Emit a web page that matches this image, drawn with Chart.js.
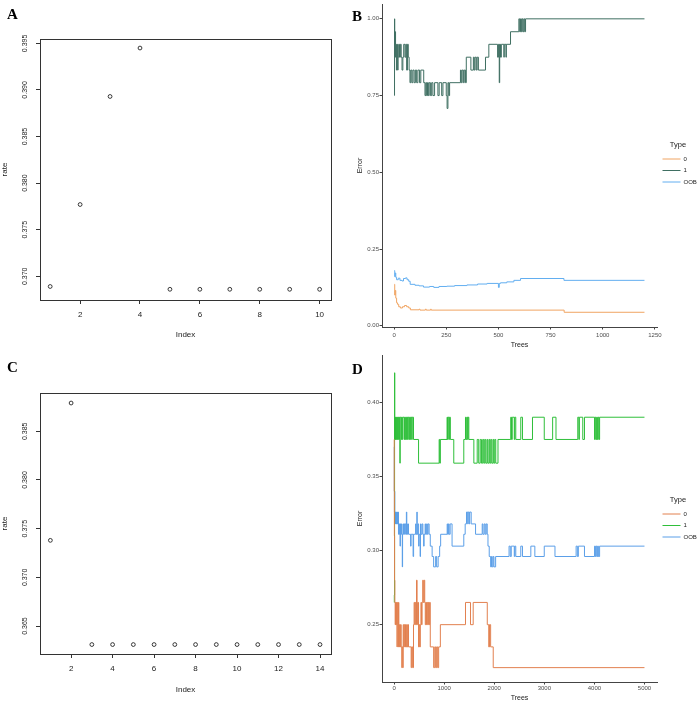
<!DOCTYPE html>
<html>
<head>
<meta charset="utf-8">
<script src="https://cdn.jsdelivr.net/npm/chart.js@4"></script>
<style>
body{margin:0;background:#fff;width:699px;height:702px;position:relative;overflow:hidden}
canvas{position:absolute}
.tag{position:absolute;z-index:2;font:bold 15px/15px "Liberation Serif","Times New Roman",serif;color:#000}
</style>
</head>
<body>
<canvas id="cA" width="350" height="350" style="left:0;top:0"></canvas>
<canvas id="cB" width="349" height="350" style="left:350px;top:0"></canvas>
<canvas id="cC" width="350" height="352" style="left:0;top:350px"></canvas>
<canvas id="cD" width="349" height="352" style="left:350px;top:350px"></canvas>
<div class="tag" style="left:7px;top:7px">A</div>
<div class="tag" style="left:352px;top:9px">B</div>
<div class="tag" style="left:7px;top:360px">C</div>
<div class="tag" style="left:352px;top:362px">D</div>
<script>
// panel A / C: error rate by index
const indexA = [1, 2, 3, 4, 5, 6, 7, 8, 9, 10];
const rateA = [0.3689, 0.3777, 0.3893, 0.3945, 0.3686, 0.3686, 0.3686, 0.3686, 0.3686, 0.3686];
const xTicksA = [2, 4, 6, 8, 10];
const yTicksA = [0.370, 0.375, 0.380, 0.385, 0.390, 0.395];

const indexC = [1, 2, 3, 4, 5, 6, 7, 8, 9, 10, 11, 12, 13, 14];
const rateC = [0.3738, 0.3879, 0.3631, 0.3631, 0.3631, 0.3631, 0.3631, 0.3631, 0.3631, 0.3631, 0.3631, 0.3631, 0.3631, 0.3631];
const xTicksC = [2, 4, 6, 8, 10, 12, 14];
const yTicksC = [0.365, 0.370, 0.375, 0.380, 0.385];

// panel B / D: error vs number of trees, [trees, error] change points
const typeNames = ["0", "1", "OOB"];

const errB0 = [[1,0.135],[3,0.10],[5,0.115],[8,0.09],[12,0.075],[16,0.07],[22,0.062],[30,0.058],[40,0.062],[50,0.066],[60,0.062],[70,0.058],[78,0.052],[120,0.054],[124,0.051],[150,0.054],[154,0.051],[175,0.054],[178,0.051],[815,0.044],[1200,0.044]];
const errB1 = [[1,0.75],[2,1.0],[3,0.917],[5,0.958],[7,0.875],[9,0.917],[11,0.833],[13,0.875],[15,0.917],[17,0.833],[19,0.875],[22,0.917],[26,0.875],[30,0.917],[34,0.875],[38,0.833],[42,0.875],[46,0.917],[52,0.875],[56,0.917],[60,0.833],[64,0.917],[68,0.875],[72,0.833],[76,0.792],[80,0.833],[85,0.792],[90,0.833],[96,0.792],[102,0.833],[108,0.792],[114,0.833],[122,0.792],[128,0.833],[142,0.792],[148,0.75],[152,0.792],[156,0.75],[160,0.792],[164,0.75],[168,0.792],[174,0.75],[180,0.792],[186,0.75],[194,0.792],[210,0.75],[216,0.792],[228,0.75],[234,0.792],[250,0.75],[254,0.708],[258,0.792],[262,0.75],[266,0.792],[318,0.833],[322,0.792],[326,0.833],[332,0.792],[336,0.833],[342,0.792],[346,0.875],[368,0.833],[380,0.875],[384,0.833],[388,0.875],[394,0.833],[398,0.875],[404,0.833],[438,0.875],[454,0.917],[496,0.875],[500,0.917],[504,0.792],[506,0.917],[510,0.875],[514,0.917],[526,0.875],[528,0.917],[536,0.875],[538,0.917],[558,0.958],[598,1.0],[602,0.958],[606,1.0],[610,0.958],[614,1.0],[618,0.958],[622,1.0],[626,0.958],[630,1.0],[1200,1.0]];
const errBoob = [[1,0.18],[3,0.16],[5,0.172],[8,0.158],[12,0.15],[20,0.155],[28,0.148],[38,0.146],[45,0.154],[55,0.156],[62,0.15],[70,0.145],[77,0.135],[100,0.132],[120,0.13],[141,0.126],[170,0.128],[190,0.125],[215,0.128],[253,0.129],[290,0.131],[349,0.133],[400,0.136],[446,0.138],[500,0.125],[504,0.138],[510,0.14],[540,0.143],[574,0.148],[606,0.154],[814,0.148],[1200,0.148]];
const xTicksB = [0, 250, 500, 750, 1000, 1250];
const yTicksB = [0.00, 0.25, 0.50, 0.75, 1.00];

const errD0 = [[1,0.375],[3,0.34],[6,0.31],[10,0.28],[16,0.265],[22,0.25],[28,0.265],[36,0.25],[42,0.265],[50,0.25],[58,0.235],[64,0.265],[72,0.25],[80,0.235],[88,0.265],[96,0.25],[104,0.235],[112,0.25],[122,0.235],[132,0.25],[142,0.235],[154,0.221],[162,0.235],[174,0.221],[182,0.25],[192,0.235],[204,0.25],[216,0.235],[228,0.25],[240,0.235],[252,0.25],[264,0.235],[276,0.25],[288,0.235],[341,0.221],[352,0.235],[370,0.221],[388,0.25],[400,0.265],[412,0.25],[424,0.265],[436,0.25],[448,0.28],[460,0.265],[470,0.25],[480,0.265],[489,0.235],[500,0.25],[512,0.235],[524,0.25],[536,0.265],[548,0.25],[560,0.265],[572,0.28],[584,0.265],[600,0.28],[612,0.265],[623,0.25],[635,0.265],[648,0.25],[660,0.265],[672,0.25],[685,0.265],[698,0.25],[710,0.265],[723,0.235],[790,0.221],[812,0.235],[830,0.221],[850,0.235],[870,0.221],[890,0.235],[924,0.25],[1426,0.265],[1526,0.25],[1580,0.265],[1861,0.25],[1890,0.235],[1905,0.25],[1928,0.235],[1980,0.221],[5000,0.221]];
const errD1 = [[1,0.265],[5,0.27],[10,0.42],[14,0.375],[18,0.39],[24,0.375],[30,0.39],[36,0.375],[44,0.39],[54,0.375],[62,0.39],[72,0.375],[80,0.39],[92,0.375],[100,0.39],[110,0.375],[116,0.359],[122,0.39],[140,0.375],[150,0.39],[162,0.375],[172,0.39],[200,0.375],[210,0.39],[222,0.375],[232,0.39],[250,0.375],[260,0.39],[272,0.375],[282,0.39],[300,0.375],[310,0.39],[330,0.375],[340,0.39],[355,0.375],[362,0.39],[388,0.375],[489,0.359],[900,0.375],[912,0.359],[924,0.375],[1058,0.39],[1068,0.375],[1078,0.39],[1095,0.375],[1105,0.39],[1124,0.375],[1192,0.359],[1392,0.375],[1426,0.39],[1440,0.375],[1455,0.39],[1470,0.375],[1478,0.39],[1493,0.375],[1593,0.359],[1660,0.375],[1690,0.359],[1720,0.375],[1745,0.359],[1770,0.375],[1790,0.359],[1810,0.375],[1830,0.359],[1855,0.375],[1870,0.359],[1895,0.375],[1910,0.359],[1930,0.375],[1950,0.359],[1975,0.375],[1990,0.359],[2010,0.375],[2030,0.359],[2075,0.375],[2329,0.39],[2345,0.375],[2360,0.39],[2400,0.375],[2410,0.39],[2430,0.375],[2530,0.39],[2564,0.375],[2764,0.39],[2999,0.375],[3166,0.39],[3233,0.375],[3668,0.39],[3690,0.375],[3700,0.39],[3768,0.375],[3802,0.39],[4003,0.375],[4015,0.39],[4030,0.375],[4045,0.39],[4060,0.375],[4075,0.39],[4090,0.375],[4104,0.39],[5000,0.39]];
const errDoob = [[1,0.37],[4,0.34],[7,0.326],[10,0.34],[14,0.318],[20,0.326],[26,0.318],[32,0.326],[40,0.318],[48,0.326],[56,0.318],[64,0.326],[72,0.318],[80,0.326],[88,0.311],[96,0.318],[104,0.311],[112,0.318],[120,0.303],[126,0.318],[136,0.311],[146,0.318],[156,0.311],[164,0.289],[170,0.311],[180,0.318],[190,0.311],[200,0.318],[212,0.311],[222,0.318],[236,0.311],[246,0.326],[254,0.311],[270,0.318],[288,0.311],[330,0.303],[340,0.311],[380,0.296],[390,0.311],[430,0.318],[440,0.311],[455,0.326],[462,0.311],[475,0.318],[490,0.303],[500,0.311],[520,0.296],[528,0.318],[540,0.311],[560,0.318],[575,0.311],[590,0.303],[600,0.311],[620,0.318],[630,0.311],[650,0.318],[665,0.311],[680,0.318],[700,0.311],[723,0.303],[760,0.296],[790,0.289],[830,0.296],[850,0.289],[880,0.296],[910,0.303],[930,0.311],[1060,0.318],[1070,0.311],[1085,0.318],[1100,0.311],[1120,0.318],[1158,0.303],[1392,0.311],[1420,0.318],[1446,0.326],[1470,0.318],[1480,0.326],[1500,0.318],[1510,0.326],[1540,0.318],[1627,0.311],[1760,0.318],[1775,0.311],[1800,0.318],[1820,0.311],[1840,0.318],[1860,0.311],[1875,0.303],[1900,0.296],[1928,0.289],[1945,0.296],[1960,0.289],[1980,0.296],[1995,0.289],[2028,0.296],[2296,0.303],[2320,0.296],[2340,0.303],[2400,0.296],[2410,0.303],[2430,0.296],[2530,0.303],[2564,0.296],[2731,0.303],[2811,0.296],[2999,0.303],[3213,0.296],[3635,0.303],[3660,0.296],[3680,0.303],[3802,0.296],[4003,0.303],[4020,0.296],[4035,0.303],[4050,0.296],[4065,0.303],[4080,0.296],[4104,0.303],[5000,0.303]];
const xTicksD = [0, 1000, 2000, 3000, 4000, 5000];
const yTicksD = [0.25, 0.30, 0.35, 0.40];

const colorsB = ["#f0a462", "#3f6f62", "#62aef0"];
const colorsD = ["#e2804f", "#2fbf3a", "#5b9fe8"];

const FONT = '"Liberation Sans", Arial, sans-serif';
Chart.defaults.font.family = FONT;

// base R style frame around the plot region
const boxPlugin = {
    id: "box",
    afterDraw(chart) {
        const a = chart.chartArea;
        const ctx = chart.ctx;
        ctx.save();
        ctx.strokeStyle = "#333";
        ctx.lineWidth = 1;
        ctx.strokeRect(Math.round(a.left) + 0.5, Math.round(a.top) + 0.5, Math.round(a.right - a.left), Math.round(a.bottom - a.top));
        ctx.restore();
    }
};

function rPanel(id, xs, ys, xRange, yRange, xTicks, yTicks, area) {
    new Chart(document.getElementById(id), {
        type: "scatter",
        data: {
            datasets: [{
                data: xs.map((x, i) => ({x: x, y: ys[i]})),
                pointRadius: 1.9,
                pointBorderWidth: 0.9,
                pointBorderColor: "#222",
                pointBackgroundColor: "rgba(0,0,0,0)"
            }]
        },
        options: {
            responsive: false,
            animation: false,
            events: [],
            layout: {padding: {left: 0, top: area.top, right: area.right, bottom: 0}},
            plugins: {legend: {display: false}, tooltip: {enabled: false}},
            scales: {
                x: {
                    type: "linear", min: xRange[0], max: xRange[1],
                    afterBuildTicks: s => { s.ticks = xTicks.map(v => ({value: v})); },
                    afterFit: s => { s.height = area.xh; },
                    grid: {drawOnChartArea: false, drawTicks: true, tickLength: 4, color: "#333"},
                    border: {display: false},
                    ticks: {padding: 6, color: "#222", font: {size: 8}, maxRotation: 0, autoSkip: false, callback: v => String(v)},
                    title: {display: true, text: "Index", color: "#222", font: {size: 8, lineHeight: 1}, padding: {top: 0, bottom: area.titlePad}}
                },
                y: {
                    type: "linear", min: yRange[0], max: yRange[1],
                    afterBuildTicks: s => { s.ticks = yTicks.map(v => ({value: v})); },
                    afterFit: s => { s.width = 40; },
                    grid: {drawOnChartArea: false, drawTicks: true, tickLength: 4, color: "#333"},
                    border: {display: false},
                    ticks: {padding: 2, color: "#222", font: {size: 7}, minRotation: 90, maxRotation: 90, crossAlign: "center", autoSkip: false, callback: v => v.toFixed(3)},
                    title: {display: true, text: "rate", color: "#222", font: {size: 8, lineHeight: 1}, padding: {top: 1, bottom: 0}}
                }
            }
        },
        plugins: [boxPlugin]
    });
}

function ggPanel(id, series, colors, xRange, yRange, xTicks, yTicks, digits, area) {
    new Chart(document.getElementById(id), {
        type: "line",
        data: {
            datasets: series.map((s, i) => ({
                label: typeNames[i],
                data: s.map(p => ({x: p[0], y: p[1]})),
                borderColor: colors[i],
                backgroundColor: colors[i],
                borderWidth: 1,
                pointRadius: 0,
                stepped: "before",
                fill: false
            }))
        },
        options: {
            responsive: false,
            animation: false,
            events: [],
            layout: {padding: {left: 0, top: area.top, right: 0, bottom: 0}},
            plugins: {
                tooltip: {enabled: false},
                legend: {
                    position: "right",
                    align: "start",
                    maxWidth: 42,
                    title: {display: true, text: "Type", color: "#222", font: {size: 7.5}, padding: {top: area.legendTop, bottom: 0.5}, position: "center"},
                    labels: {usePointStyle: true, pointStyle: "line", pointStyleWidth: 18, padding: 5.5, color: "#222", font: {size: 6, lineHeight: 1}}
                }
            },
            scales: {
                x: {
                    type: "linear", min: xRange[0], max: xRange[1],
                    afterBuildTicks: s => { s.ticks = xTicks.map(v => ({value: v})); },
                    afterFit: s => { s.height = area.xh; },
                    grid: {drawOnChartArea: false, drawTicks: true, tickLength: 2.5, color: "#444"},
                    border: {display: true, color: "#444", width: 1},
                    ticks: {padding: area.tickPad, color: "#4d4d4d", font: {size: 6, lineHeight: 1}, maxRotation: 0, autoSkip: false, callback: v => String(v)},
                    title: {display: true, text: "Trees", color: "#222", font: {size: 7, lineHeight: 1}, padding: {top: 0, bottom: area.titlePad}}
                },
                y: {
                    type: "linear", min: yRange[0], max: yRange[1],
                    afterBuildTicks: s => { s.ticks = yTicks.map(v => ({value: v})); },
                    afterFit: s => { s.width = 32; },
                    grid: {drawOnChartArea: false, drawTicks: true, tickLength: 2.5, color: "#444"},
                    border: {display: true, color: "#444", width: 1},
                    ticks: {padding: 0.5, color: "#4d4d4d", font: {size: 6}, autoSkip: false, callback: v => v.toFixed(digits)},
                    title: {display: true, text: "Error", color: "#222", font: {size: 7, lineHeight: 1}, padding: {top: 6.5, bottom: 0}}
                }
            }
        }
    });
}

rPanel("cA", indexA, rateA, [0.66, 10.38], [0.36745, 0.39547], xTicksA, yTicksA, {top: 39, right: 19, xh: 50, titlePad: 11});
rPanel("cC", indexC, rateC, [0.5, 14.53], [0.36213, 0.38893], xTicksC, yTicksC, {top: 43, right: 19, xh: 48, titlePad: 8});
ggPanel("cB", [errB0, errB1, errBoob], colorsB, [-58, 1260], [-0.004, 1.048], xTicksB, yTicksB, 2, {top: 1, xh: 23, tickPad: 2.5, titlePad: 1.5, legendTop: 140});
ggPanel("cD", [errD0, errD1, errDoob], colorsD, [-241, 5250], [0.2113, 0.432], xTicksD, yTicksD, 2, {top: 5, xh: 20, tickPad: 1, titlePad: 0.8, legendTop: 141});
</script>
</body>
</html>
